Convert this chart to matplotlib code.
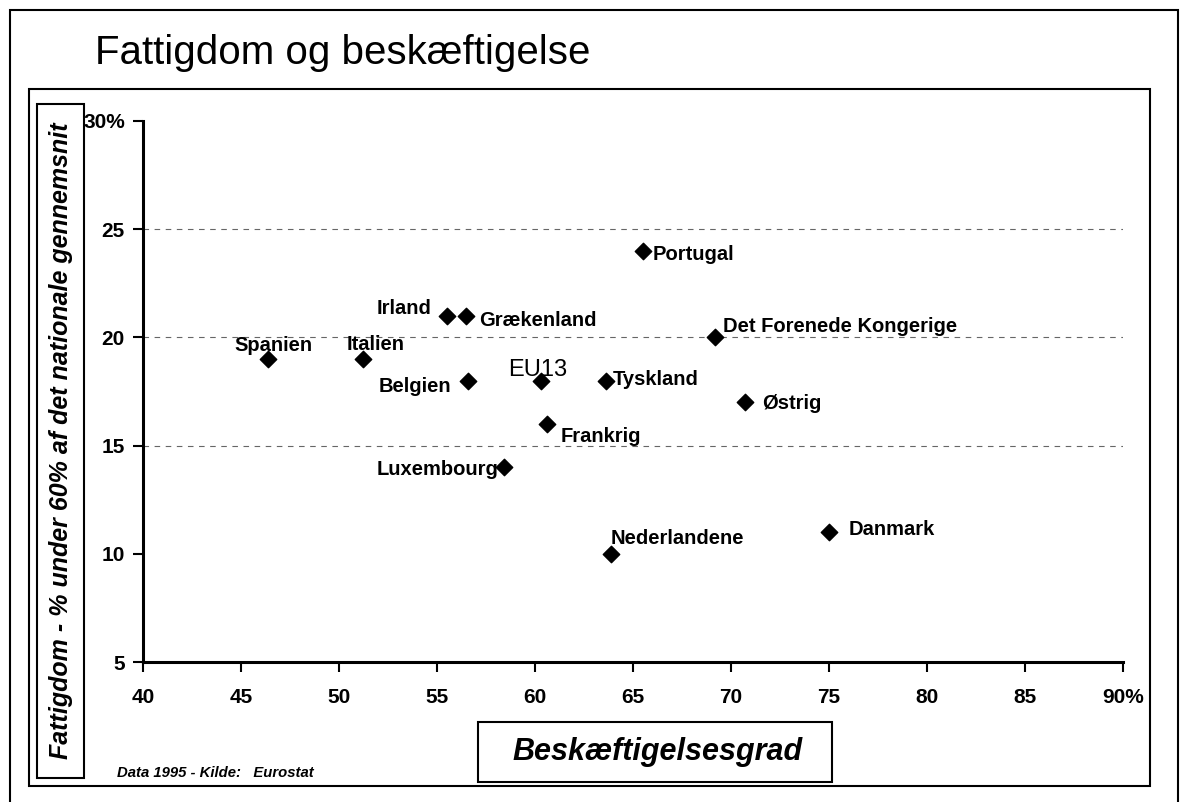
import matplotlib
matplotlib.use("Agg")
import matplotlib.pyplot as plt
from matplotlib.patches import Rectangle

plt.rcParams['font.family'] = ['Liberation Sans', 'DejaVu Sans']

# data 1995 (Eurostat)
countries = ['Spanien', 'Italien', 'Irland', 'Grækenland', 'Belgien', 'EU13',
             'Tyskland', 'Portugal', 'Det Forenede Kongerige', 'Østrig',
             'Frankrig', 'Luxembourg', 'Nederlandene', 'Danmark']
employment = [46.4, 51.2, 55.5, 56.5, 56.6, 60.3, 63.6, 65.5, 69.2, 70.7,
              60.6, 58.4, 63.9, 75.0]
poverty = [19, 19, 21, 21, 18, 18, 18, 24, 20, 17, 16, 14, 10, 11]

x_ticks = [40, 45, 50, 55, 60, 65, 70, 75, 80, 85, 90]
x_labels = ['40', '45', '50', '55', '60', '65', '70', '75', '80', '85', '90%']
y_ticks = [5, 10, 15, 20, 25, 30]
y_labels = ['5', '10', '15', '20', '25', '30%']

# label placement: (dx, dy) in pixels, horizontal alignment
label_pos = {
    'Spanien': (5, 14, 'center'),
    'Italien': (13, 15, 'center'),
    'Irland': (-15, 7, 'right'),
    'Grækenland': (13, -5, 'left'),
    'Belgien': (-17, -6, 'right'),
    'EU13': (-3, 11, 'center'),
    'Tyskland': (7, 1, 'left'),
    'Portugal': (10, -4, 'left'),
    'Det Forenede Kongerige': (8, 11, 'left'),
    'Østrig': (17, -1, 'left'),
    'Frankrig': (14, -13, 'left'),
    'Luxembourg': (-5, -2, 'right'),
    'Nederlandene': (-1, 15, 'left'),
    'Danmark': (20, 3, 'left'),
}

W, H = 1182, 802
fig = plt.figure(figsize=(W / 100, H / 100), dpi=100)


def px_rect(x0, y0, x1, y1, lw=1.5):
    fig.patches.append(Rectangle((x0 / W, 1 - y1 / H), (x1 - x0) / W, (y1 - y0) / H,
                                 transform=fig.transFigure, fill=False,
                                 edgecolor='black', linewidth=lw))


# frames (outer frame runs off the bottom of the scan)
px_rect(10, 10, 1178, 830)
px_rect(29, 89, 1150, 786)
px_rect(37, 104, 84, 778)
px_rect(478, 722, 832, 782)

fig.text(95 / W, 1 - 53 / H, 'Fattigdom og beskæftigelse', fontsize=29,
         ha='left', va='center')

ax = fig.add_axes([143 / W, 1 - 662 / H, 980 / W, 541 / H])
ax.scatter(employment, poverty, marker='D', s=70, color='black', zorder=3)

for name, x, y in zip(countries, employment, poverty):
    dx, dy, ha = label_pos[name]
    if name == 'EU13':
        ax.annotate(name, (x, y), xytext=(dx, dy), textcoords='offset pixels',
                    ha=ha, va='center', fontsize=17)
    else:
        ax.annotate(name, (x, y), xytext=(dx, dy), textcoords='offset pixels',
                    ha=ha, va='center', fontsize=14.5, fontweight='bold')

for y in [15, 20, 25]:
    ax.axhline(y, color='#666666', linewidth=0.8, linestyle=(0, (5, 5)), zorder=1)

ax.set_xlim(40, 90)
ax.set_ylim(5, 30)
ax.set_xticks(x_ticks)
ax.set_xticklabels(x_labels, fontsize=15, fontweight='bold')
ax.set_yticks(y_ticks)
ax.set_yticklabels(y_labels, fontsize=15, fontweight='bold')
ax.tick_params(axis='x', direction='out', length=7, width=1.5, pad=12)
ax.tick_params(axis='y', direction='out', length=7, width=1.5, pad=6)
ax.spines['top'].set_visible(False)
ax.spines['right'].set_visible(False)
ax.spines['left'].set_linewidth(2.2)
ax.spines['bottom'].set_linewidth(2.2)
ax.patch.set_alpha(0)

fig.text(61 / W, 1 - 441 / H, 'Fattigdom - % under 60% af det nationale gennemsnit',
         rotation=90, ha='center', va='center', fontsize=18,
         fontweight='bold', fontstyle='italic')
fig.text(658 / W, 1 - 752 / H, 'Beskæftigelsesgrad', ha='center', va='center',
         fontsize=22, fontweight='bold', fontstyle='italic')
fig.text(117 / W, 1 - 773 / H, 'Data 1995 - Kilde:   Eurostat', ha='left',
         va='center', fontsize=10.7, fontweight='bold', fontstyle='italic')

fig.savefig('out.png', dpi=100)
